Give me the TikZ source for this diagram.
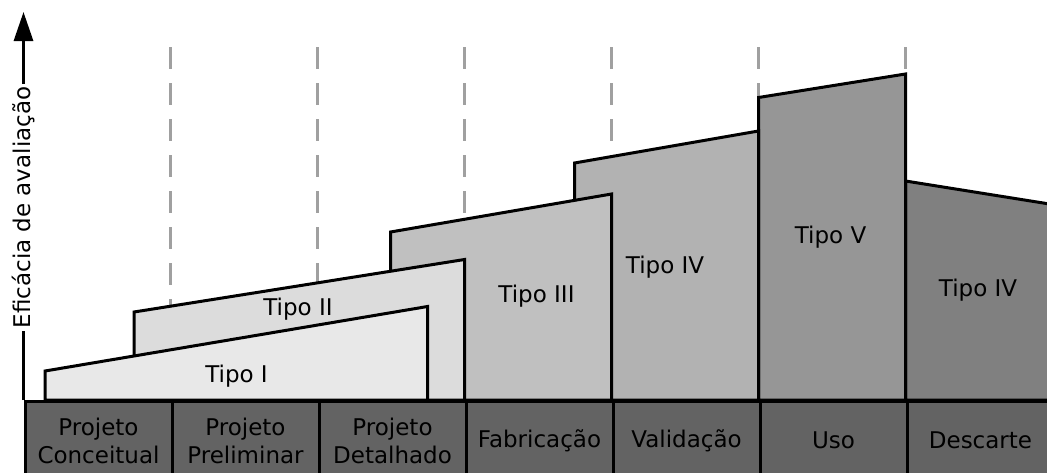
\documentclass[tikz,border=0pt]{standalone}
\usepackage{fontspec}
\setmainfont{DejaVu Sans}
\usetikzlibrary{arrows.meta}
\newcommand{\colW}{147}
\newcommand{\xZero}{23.5}
\newcommand{\stripTop}{400}
\newcommand{\stripH}{78}
\definecolor{stripgray}{RGB}{99,99,99}
\definecolor{guidegray}{RGB}{160,160,160}
\definecolor{tipoIfill}{RGB}{232,232,232}
\definecolor{tipoIIfill}{RGB}{220,220,220}
\definecolor{tipoIIIfill}{RGB}{192,192,192}
\definecolor{tipoIVfill}{RGB}{178,178,178}
\definecolor{tipoVfill}{RGB}{150,150,150}
\definecolor{descfill}{RGB}{128,128,128}
\begin{document}
\begin{tikzpicture}[x=1pt,y=-1pt,
  lbl/.style={font=\fontsize{23}{28}\selectfont, inner sep=0pt, align=center},
  stage/.style={draw=black, line width=3pt, line join=miter},
  guide/.style={draw=guidegray, line width=2.4pt, dash pattern=on 22pt off 14pt},
  cell/.style={lbl, draw=black, line width=3pt, fill=stripgray, anchor=north west,
    minimum width=\colW pt, minimum height=\stripH pt}]

\useasboundingbox (0,0) rectangle (1047,472);

\foreach \i in {1,...,6}
  \draw[guide] ({\xZero+\i*\colW},47) -- ({\xZero+\i*\colW},\stripTop);

\draw[stage, fill=descfill] (905.5,\stripTop) -- (905.5,181) -- (1062,206) -- (1062,\stripTop) -- cycle;
\draw[stage, fill=tipoVfill] (758.5,\stripTop) -- (758.5,97.5) -- (905.5,74) -- (905.5,\stripTop) -- cycle;
\draw[stage, fill=tipoIVfill] (574.5,\stripTop) -- (574.5,163) -- (758.5,131) -- (758.5,\stripTop) -- cycle;
\draw[stage, fill=tipoIIIfill] (390.5,\stripTop) -- (390.5,232) -- (611.5,194) -- (611.5,\stripTop) -- cycle;
\draw[stage, fill=tipoIIfill] (134,\stripTop) -- (134,312) -- (464.5,259.5) -- (464.5,\stripTop) -- cycle;
\draw[stage, fill=tipoIfill] (45,\stripTop) -- (45,371) -- (427.5,306.5) -- (427.5,\stripTop) -- cycle;

\node[lbl] (tipoI) at (236.5,376) {Tipo I};
\node[lbl] (tipoII) at (298,309) {Tipo II};
\node[lbl] (tipoIII) at (536.5,296) {Tipo III};
\node[lbl] (tipoIV) at (665,267) {Tipo IV};
\node[lbl] (tipoV) at (830.5,237) {Tipo V};
\node[lbl] (tipoIVb) at (978,290) {Tipo IV};

\foreach \i/\t in {0/{Projeto\\Conceitual},1/{Projeto\\Preliminar},2/{Projeto\\Detalhado},3/Fabricação,4/Validação,5/Uso,6/Descarte}
  \node[cell] (cell\i) at ({\xZero+\i*\colW},\stripTop) {\t};

\coordinate (ybase) at (\xZero,\stripTop);
\coordinate (ytip) at (\xZero,12);
\draw[line width=3pt, -{Triangle[length=29pt,width=19pt]}] (ybase) -- (ytip);
\node[lbl, rotate=90, fill=white, inner sep=3pt] (ylabel) at (\xZero,207.5) {Eficácia de avaliação};
\end{tikzpicture}
\end{document}
